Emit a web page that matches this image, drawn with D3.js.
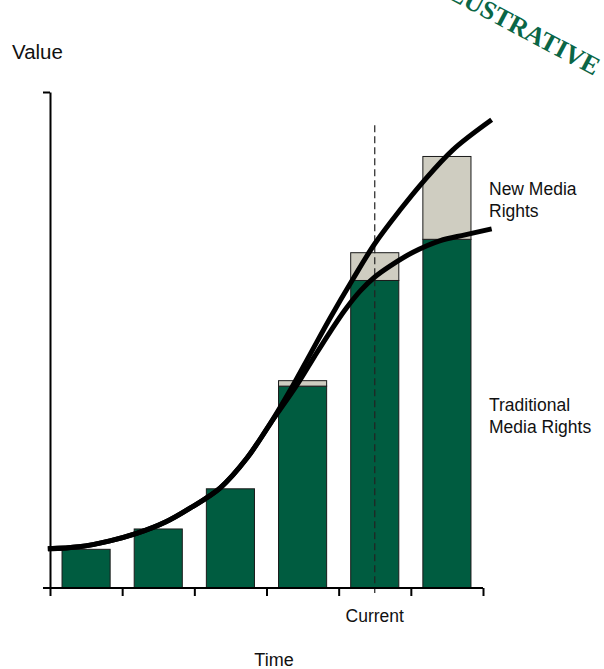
<!DOCTYPE html>
<html><head><meta charset="utf-8">
<script src="https://cdn.jsdelivr.net/npm/d3@7"></script>
<style>body{margin:0;background:#fff}svg{display:block}</style>
</head><body>
<svg id="c" width="604" height="669"></svg>
<script>
const periods = ["P1","P2","P3","P4","P5","P6"];
const periodLabels = ["","","","","Current",""];
const traditional = [7.8, 11.9, 20.0, 40.7, 62.0, 70.3];
const newMedia = [0, 0, 0, 1.1, 5.6, 16.7];
// curves: [time, value]
const totalCurve = [[-0.03,7.9],[0.4,8.3],[0.83,9.5],[1.2,11.0],[1.6,13.3],[1.94,16.1],[2.36,20.2],[2.73,26.2],[3.05,33.1],[3.33,39.9],[3.6,47.0],[3.88,54.4],[4.19,62.1],[4.5,69.4],[4.85,76.2],[5.17,81.9],[5.58,88.3],[6.12,94.4]];
const traditionalCurve = [[-0.03,7.9],[0.4,8.3],[0.83,9.5],[1.2,11.0],[1.6,13.3],[1.94,16.1],[2.36,20.2],[2.73,26.2],[3.05,33.1],[3.42,40.9],[3.67,46.8],[3.88,51.6],[4.09,56.1],[4.3,59.9],[4.5,62.7],[4.71,64.9],[5.03,67.7],[5.4,70.0],[5.75,71.2],[6.12,72.4]];
const currentTime = 4.5, currentTop = 93.3;

const FONT = "'Liberation Sans', Arial, sans-serif";
const svg = d3.select("#c");
const x0 = 50, x1 = 483, yBase = 588, yTop = 92;
const t = d3.scaleLinear().domain([0,6]).range([x0,x1]);
const xb = d3.scaleBand().domain(periods).range([x0,x1]).paddingInner(1/3).paddingOuter(1/6);
const y = d3.scaleLinear().domain([0,100]).range([yBase,yTop]);
const green = "#005c40", grey = "#cfcdc1";

// bars
const g = svg.append("g");
g.selectAll("rect.trad").data(periods).join("rect")
  .attr("x", d=>xb(d)).attr("width", xb.bandwidth())
  .attr("y", (d,i)=>y(traditional[i])).attr("height", (d,i)=>y(0)-y(traditional[i]))
  .attr("fill", green).attr("stroke","#1a1a1a").attr("stroke-width",1);
g.selectAll("rect.nm").data(periods.filter((d,i)=>newMedia[i]>0)).join("rect")
  .attr("x", d=>xb(d)).attr("width", xb.bandwidth())
  .attr("y", d=>{const i=periods.indexOf(d);return y(traditional[i]+newMedia[i]);})
  .attr("height", d=>{const i=periods.indexOf(d);return y(traditional[i])-y(traditional[i]+newMedia[i]);})
  .attr("fill", grey).attr("stroke","#1a1a1a").attr("stroke-width",1);

// dashed current line
svg.append("line").attr("x1",t(currentTime)).attr("x2",t(currentTime))
  .attr("y1",y(currentTop)).attr("y2",yBase+5)
  .attr("stroke","#222").attr("stroke-width",1.2).attr("stroke-dasharray","7,4");

// curves
const line = d3.line().x(d=>t(d[0])).y(d=>y(d[1])).curve(d3.curveCatmullRom.alpha(0.5));
[totalCurve, traditionalCurve].forEach(c=>{
  svg.append("path").attr("d",line(c)).attr("fill","none").attr("stroke","#000")
    .attr("stroke-width",5).attr("stroke-linecap","butt").attr("stroke-linejoin","round");
});

// axes
const xAxis = d3.axisBottom(t).tickValues(d3.range(0,7)).tickFormat("").tickSize(8).tickSizeOuter(0);
const xg = svg.append("g").attr("transform",`translate(0,${yBase})`).call(xAxis);
xg.select(".domain").attr("d",`M43,0H${x1}`).attr("stroke-width",2);
xg.selectAll(".tick line").attr("stroke-width",2);
const yAxis = d3.axisLeft(y).tickValues([100]).tickFormat("").tickSize(7).tickSizeOuter(0);
const yg = svg.append("g").attr("transform",`translate(${x0},0)`).call(yAxis);
yg.select(".domain").attr("stroke-width",2);
yg.selectAll(".tick line").attr("stroke-width",2);

// period labels
svg.selectAll("text.pl").data(periods).join("text")
  .attr("x", d=>xb(d)+xb.bandwidth()/2).attr("y", 622).attr("text-anchor","middle")
  .style("font-family",FONT).style("font-size","17.5px").attr("fill","#111").text((d,i)=>periodLabels[i]);

// axis titles
svg.append("text").attr("x",12).attr("y",59).style("font-family",FONT).style("font-size","20.5px").attr("fill","#111").text("Value");
svg.append("text").attr("x",274).attr("y",666).attr("text-anchor","middle").style("font-family",FONT).style("font-size","18px").attr("fill","#111").text("Time");

// series labels
const lab = (lines, yy)=>{
  const tx = svg.append("text").attr("x",489).attr("y",yy).style("font-family",FONT).style("font-size","17.5px").attr("fill","#111");
  lines.forEach((l,i)=>tx.append("tspan").attr("x",489).attr("dy", i? 21.5:0).text(l));
};
lab(["New Media","Rights"],195);
lab(["Traditional","Media Rights"],411);

// stamp
svg.append("text").attr("transform","translate(594,76) rotate(28)")
  .attr("text-anchor","end").style("font-family","'Liberation Serif','DejaVu Serif',serif")
  .style("font-weight","bold").style("font-size","26px").attr("fill","#0a6646").text("ILLUSTRATIVE");
</script>
</body></html>
